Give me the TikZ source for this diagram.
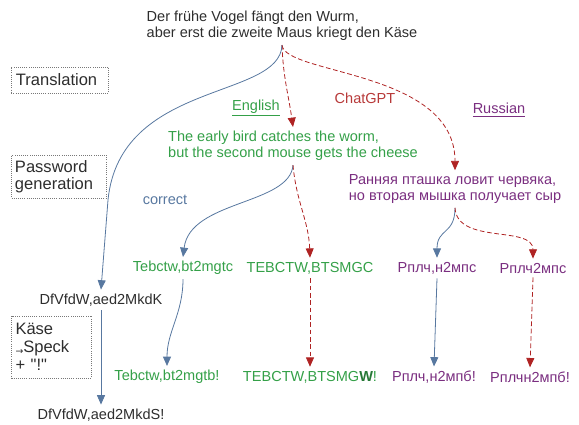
\documentclass[tikz,border=0pt]{standalone}
\usepackage{fontspec}
\setmainfont{Liberation Sans}
\newfontfamily\arrowfont{DejaVu Sans}
\usetikzlibrary{arrows.meta}
\definecolor{txtgray}{RGB}{45, 45, 45}
\definecolor{engreen}{RGB}{52, 160, 72}
\definecolor{rupurple}{RGB}{122, 46, 128}
\definecolor{gptred}{RGB}{175, 35, 35}
\definecolor{okblue}{RGB}{88, 120, 160}
\definecolor{boxgray}{RGB}{120, 120, 120}

\begin{document}
\begin{tikzpicture}[x=0.75pt, y=-0.75pt,
  txt/.style={font=\fontsize{10.9}{12}\selectfont, inner sep=3pt, align=left},
  stagebox/.style={draw=boxgray, line width=0.5pt, dash pattern=on 0.6pt off 1pt, text=txtgray,
    font=\fontsize{12.4}{12.6}\selectfont, align=left, inner sep=0pt},
  okarrow/.style={okblue, line width=0.6pt, -{Triangle[width=6pt, length=7pt]}},
  gptarrow/.style={gptred, line width=0.6pt, dash pattern=on 3.5pt off 2pt, -{Triangle[width=6pt, length=7pt]}}
]
  \useasboundingbox (0, 0) rectangle (579, 425);

  % German proverb
  \node[txt, text=txtgray] (de) at (282, 26) {Der frühe Vogel fängt den Wurm,\\aber erst die zweite Maus kriegt den Käse};

  % Stage boxes
  \node[stagebox, minimum width=73pt, minimum height=19.5pt, text width=66pt] (trans) at (60, 80) {Translation};
  \node[stagebox, minimum width=71pt, minimum height=32pt, text width=66pt] (pwgen) at (59, 176.5) {Password\\generation};
  \node[stagebox, minimum width=60pt, minimum height=46.5pt, text width=54pt, font=\fontsize{12.4}{13.3}\selectfont] (rule) at (51.5, 347) {Käse\\{\arrowfont\scriptsize\raisebox{-1.5pt}{→}}Speck\\+ \textquotedbl!\textquotedbl};

  % Translations
  \node[txt, text=engreen] (en) at (293, 146) {The early bird catches the worm,\\but the second mouse gets the cheese};
  \node[txt, text=rupurple] (ru) at (455, 189) {Ранняя пташка ловит червяка,\\но вторая мышка получает сыр};

  % Labels
  \node[txt, text=engreen] (enlab) at (256, 108) {\underline{English}};
  \node[txt, text=gptred!90!white] (gptlab) at (365, 98) {ChatGPT};
  \node[txt, text=rupurple] (rulab) at (499, 110) {\underline{Russian}};
  \node[txt, text=okblue] (corrlab) at (165, 200) {correct};

  % Generated passwords
  \node[txt, text=txtgray] (dfk) at (101, 300) {DfVfdW,aed2MkdK};
  \node[txt, text=engreen] (tc1) at (183, 268) {Tebctw,bt2mgtc};
  \node[txt, text=engreen] (tc2) at (310, 268) {TEBCTW,BTSMGC};
  \node[txt, text=rupurple] (r1) at (437, 268) {Рплч,н2мпс};
  \node[txt, text=rupurple] (r2) at (533, 268) {Рплч2мпс};

  % Modified passwords
  \node[txt, text=txtgray] (dfs) at (101, 415) {DfVfdW,aed2MkdS!};
  \node[txt, text=engreen] (tb1) at (167, 377) {Tebctw,bt2mgtb!};
  \node[txt, text=engreen] (tb2) at (310, 377) {TEBCTW,BTSMG\textbf{\color{engreen!75!black}W}!};
  \node[txt, text=rupurple] (rb1) at (434, 377) {Рплч,н2мпб!};
  \node[txt, text=rupurple] (rb2) at (530, 377) {Рплчн2мпб!};

  % Translation arrows
  \draw[gptarrow] (de.south) to[out=-88, in=98] (en.north);
  \draw[gptarrow] (de.south) .. controls (285, 75) and (455, 70) .. (ru.north);
  \draw[okarrow] (de.south) .. controls (280, 100) and (120, 80) .. (108, 200) -- (dfk.north);

  % Password generation arrows
  \draw[okarrow] (en.south) .. controls (290, 205) and (190, 200) .. (tc1.north);
  \draw[gptarrow] (en.south) to[out=-85, in=92] (tc2.north);
  \draw[okarrow] (ru.south) .. controls (455, 235) and (437, 228) .. (r1.north);
  \draw[gptarrow] (ru.south) .. controls (457, 245) and (533, 225) .. (r2.north);

  % Modification arrows
  \draw[okarrow] (dfk.south) -- (dfs.north);
  \draw[okarrow] (tc1.south) to[out=-90, in=90] (tb1.north);
  \draw[gptarrow] (tc2.south) -- (tb2.north);
  \draw[okarrow] (r1.south) -- (rb1.north);
  \draw[gptarrow] (r2.south) -- (rb2.north);
\end{tikzpicture}
\end{document}
